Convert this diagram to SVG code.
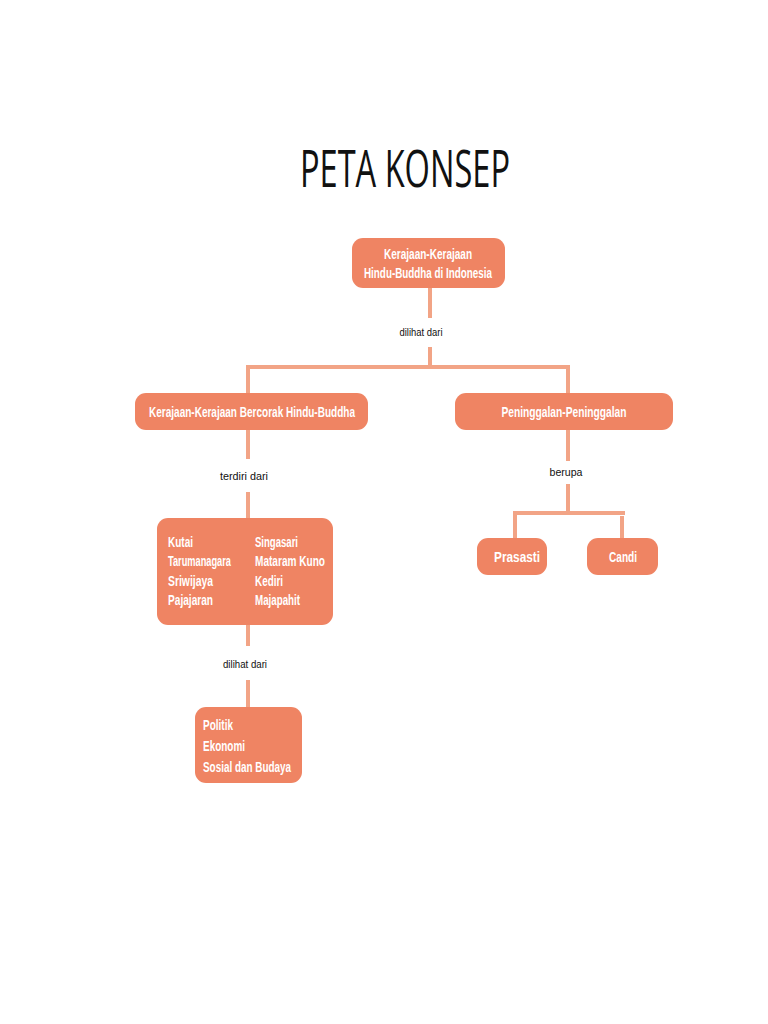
<svg xmlns="http://www.w3.org/2000/svg" width="768" height="1024" viewBox="0 0 768 1024">
<style>
.box{fill:#EF8463;}
.nt{font-family:"Liberation Sans Narrow","Liberation Sans","DejaVu Sans Condensed",sans-serif;font-weight:bold;fill:#FFFFFF;font-size:15px;}
.sm{font-size:14px;}
.lbl{font-family:"Liberation Sans Narrow","Liberation Sans",sans-serif;fill:#111111;font-size:11px;}
.ln{stroke:#F2A486;stroke-width:4;fill:none;}
</style>
<rect width="768" height="1024" fill="#FFFFFF"/>
<text x="405" y="187" text-anchor="middle" font-family="'Open Sans','Liberation Sans',sans-serif" font-size="51" fill="#111111" textLength="210" lengthAdjust="spacingAndGlyphs">PETA KONSEP</text>
<g id="connectors">
<path class="ln" d="M430,288 V318 M430,347 V367 M248,367 H568 M248,365 V393 M568,365 V393"/>
<path class="ln" d="M248,430 V459 M248,492 V518"/>
<path class="ln" d="M568,430 V461 M568,484 V513 M513,513 H625 M515,511 V538 M622,516 V538"/>
<path class="ln" d="M248,625 V646 M248,680 V707"/>
</g>
<g id="labels">
<text class="lbl" x="421" y="336" text-anchor="middle" textLength="43" lengthAdjust="spacingAndGlyphs">dilihat dari</text>
<text class="lbl" x="244" y="480" text-anchor="middle" textLength="48" lengthAdjust="spacingAndGlyphs">terdiri dari</text>
<text class="lbl" x="566" y="476" text-anchor="middle" textLength="33" lengthAdjust="spacingAndGlyphs">berupa</text>
<text class="lbl" x="245" y="668" text-anchor="middle" textLength="44" lengthAdjust="spacingAndGlyphs">dilihat dari</text>
</g>
<g id="node-root">
<rect class="box" x="352" y="238" width="153" height="50" rx="11"/>
<text class="nt" x="428" y="259" text-anchor="middle" textLength="88" lengthAdjust="spacingAndGlyphs">Kerajaan-Kerajaan</text>
<text class="nt" x="428" y="278" text-anchor="middle" textLength="128" lengthAdjust="spacingAndGlyphs">Hindu-Buddha di Indonesia</text>
</g>
<g id="node-kerajaan">
<rect class="box" x="135" y="393" width="233" height="37" rx="11"/>
<text class="nt" x="252" y="417" text-anchor="middle" font-size="16" textLength="206" lengthAdjust="spacingAndGlyphs">Kerajaan-Kerajaan Bercorak Hindu-Buddha</text>
</g>
<g id="node-peninggalan">
<rect class="box" x="455" y="393" width="218" height="37" rx="11"/>
<text class="nt" x="564" y="417" text-anchor="middle" font-size="16" textLength="125" lengthAdjust="spacingAndGlyphs">Peninggalan-Peninggalan</text>
</g>
<g id="node-prasasti">
<rect class="box" x="477" y="538" width="70" height="37" rx="11"/>
<text class="nt" x="517" y="562" text-anchor="middle" textLength="46" lengthAdjust="spacingAndGlyphs">Prasasti</text>
</g>
<g id="node-candi">
<rect class="box" x="587" y="538" width="71" height="37" rx="11"/>
<text class="nt" x="623" y="562" text-anchor="middle" textLength="28" lengthAdjust="spacingAndGlyphs">Candi</text>
</g>
<g id="node-kingdoms">
<rect class="box" x="157" y="518" width="176" height="107" rx="11"/>
<text class="nt sm" x="168" y="547" textLength="25" lengthAdjust="spacingAndGlyphs">Kutai</text>
<text class="nt sm" x="168" y="566" textLength="63" lengthAdjust="spacingAndGlyphs">Tarumanagara</text>
<text class="nt sm" x="168" y="586" textLength="45" lengthAdjust="spacingAndGlyphs">Sriwijaya</text>
<text class="nt sm" x="168" y="605" textLength="45" lengthAdjust="spacingAndGlyphs">Pajajaran</text>
<text class="nt sm" x="255" y="547" textLength="43" lengthAdjust="spacingAndGlyphs">Singasari</text>
<text class="nt sm" x="255" y="566" textLength="70" lengthAdjust="spacingAndGlyphs">Mataram Kuno</text>
<text class="nt sm" x="255" y="586" textLength="28" lengthAdjust="spacingAndGlyphs">Kediri</text>
<text class="nt sm" x="255" y="605" textLength="45" lengthAdjust="spacingAndGlyphs">Majapahit</text>
</g>
<g id="node-aspek">
<rect class="box" x="195" y="707" width="107" height="76" rx="11"/>
<text class="nt" x="203" y="730" textLength="30" lengthAdjust="spacingAndGlyphs">Politik</text>
<text class="nt" x="203" y="751" textLength="42" lengthAdjust="spacingAndGlyphs">Ekonomi</text>
<text class="nt" x="203" y="772" textLength="88" lengthAdjust="spacingAndGlyphs">Sosial dan Budaya</text>
</g>
</svg>
